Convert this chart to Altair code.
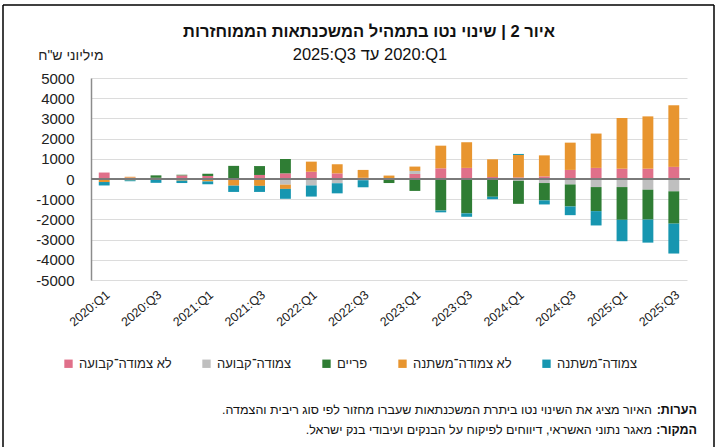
import altair as alt
import pandas as pd

quarters = ["2020:Q1", "2020:Q2", "2020:Q3", "2020:Q4",
            "2021:Q1", "2021:Q2", "2021:Q3", "2021:Q4",
            "2022:Q1", "2022:Q2", "2022:Q3", "2022:Q4",
            "2023:Q1", "2023:Q2", "2023:Q3", "2023:Q4",
            "2024:Q1", "2024:Q2", "2024:Q3", "2024:Q4",
            "2025:Q1", "2025:Q2", "2025:Q3"]

series_names = ["לא צמודה־קבועה", "צמודה־קבועה", "פריים", "לא צמודה־משתנה", "צמודה־משתנה"]
series_colors = ["#e0708a", "#bfbfbf", "#2f7d34", "#e8952f", "#1796b0"]

# millions of NIS, per quarter
fixed_nonindexed = [320, 70, 60, 180, 150, 30, 200, 280, 360, 280, 60, 20,
                    250, 530, 550, 100, 80, 130, 450, 550, 510, 510, 600]
fixed_indexed = [-40, 0, 0, 0, 0, 0, 0, -280, -320, -210, -60, 0,
                 150, 0, 0, 0, -90, -200, -270, -400, -400, -530, -610]
prime = [0, -70, 120, 30, 110, 620, 440, 710, 0, 0, 0, -200,
         -590, -1560, -1700, -880, -1140, -860, -1090, -1190, -1620, -1480, -1600]
variable_nonindexed = [-110, 40, -40, -80, -120, -330, -340, -210, 500, 450, 390, 150,
                       215, 1120, 1270, 875, 1110, 1040, 1350, 1700, 2510, 2590, 3050]
variable_indexed = [-170, -40, -150, -120, -140, -310, -300, -490, -550, -500, -350, 0,
                    0, -90, -170, -120, 50, -200, -430, -710, -1060, -1140, -1480]

label_quarters = quarters[::2]
y_ticks = list(range(-5000, 5001, 1000))

title_text = "איור 2 | שינוי נטו בתמהיל המשכנתאות הממוחזרות"
subtitle_text = "2025:Q3 עד \u200e2020:Q1"
unit_text = "מיליוני ש\"ח"
note_bold = "הערות:\u200f"
note_text = "האיור מציג את השינוי נטו ביתרת המשכנתאות שעברו מחזור לפי סוג ריבית והצמדה.\u200f"
source_bold = "המקור:\u200f"
source_text = "מאגר נתוני האשראי, דיווחים לפיקוח על הבנקים ועיבודי בנק ישראל.\u200f"

all_series = [fixed_nonindexed, fixed_indexed, prime, variable_nonindexed, variable_indexed]
rows = []
for si, (name, vals) in enumerate(zip(series_names, all_series)):
    for q, v in zip(quarters, vals):
        rows.append({"quarter": q, "series": name, "value": v, "ord": si})
df = pd.DataFrame(rows)

FONT = "Liberation Sans"
W, H = 596, 202

y_scale = alt.Scale(domain=[-5000, 5000], nice=False)
y_axis = alt.Axis(title=unit_text, values=y_ticks, labelExpr="'' + datum.value",
                  labelOverlap=False, labelBound=False, labelFlush=False,
                  titleAngle=0, titleAlign="right", titleBaseline="middle",
                  titleX=12, titleY=-23, titleFont=FONT, titleFontSize=14,
                  titleFontWeight="normal", titleColor="#222",
                  labelFontSize=15, labelFont=FONT, labelColor="#222",
                  labelPadding=17, ticks=False, domainColor="#8c8c8c",
                  domainWidth=1.5, gridColor="#dcdcdc", gridWidth=1)

bars = alt.Chart(df).mark_bar().encode(
    x=alt.X("quarter:N", sort=quarters,
            scale=alt.Scale(paddingInner=0.58, paddingOuter=0.3),
            axis=alt.Axis(title=None, values=label_quarters, labelAngle=-40,
                          labelFontSize=12.5, labelFont=FONT, labelColor="#222",
                          ticks=False, domain=False, labelPadding=8, grid=False)),
    y=alt.Y("value:Q", stack="zero", scale=y_scale, axis=y_axis),
    color=alt.Color("series:N",
                    scale=alt.Scale(domain=series_names, range=series_colors),
                    legend=alt.Legend(orient="none", legendX=-29, legendY=279,
                                      direction="horizontal", title=None,
                                      symbolType="square", symbolSize=70,
                                      symbolStrokeWidth=0, labelFont=FONT,
                                      labelFontSize=13, labelColor="#222",
                                      labelLimit=0, columnPadding=28)),
    order=alt.Order("ord:Q", sort="ascending"),
)

one = alt.Data(values=[{}])

zero = alt.Chart(one).mark_rule(color="#7a7a7a", strokeWidth=2).encode(
    y=alt.Y(datum=0, scale=y_scale, axis=y_axis), x=alt.value(0), x2=alt.value(W + 3))


def txt(text, x, y, size, bold=False, align="center"):
    return alt.Chart(one).mark_text(
        text=text, font=FONT, fontSize=size, align=align, baseline="middle",
        fontWeight="bold" if bold else "normal", color="#111"
    ).encode(x=alt.value(x), y=alt.value(y))


frame_left = alt.Chart(one).mark_rule(color="#000", strokeWidth=1.5).encode(
    x=alt.value(-88), y=alt.value(-73), y2=alt.value(369))
frame_right = alt.Chart(one).mark_rule(color="#000", strokeWidth=1.5).encode(
    x=alt.value(623), y=alt.value(-73), y2=alt.value(369))
frame_top = alt.Chart(one).mark_rule(color="#000", strokeWidth=1.5).encode(
    x=alt.value(-88), x2=alt.value(623), y=alt.value(-73))

chart = alt.layer(
    bars, zero,
    txt(title_text, 278, -46, 16.5, bold=True),
    txt(subtitle_text, 279, -23, 16.5),
    txt(note_bold, 606, 332, 12.5, bold=True, align="right"),
    txt(note_text, 561, 332, 12.5, align="right"),
    txt(source_bold, 606, 352, 12.5, bold=True, align="right"),
    txt(source_text, 561, 352, 12.5, align="right"),
    frame_left, frame_right, frame_top,
).properties(
    width=W, height=H,
    autosize=alt.AutoSizeParams(type="none"),
    padding={"left": 91, "top": 78, "right": 36, "bottom": 167},
    background="white",
).configure_view(stroke=None).configure_axisY(labelOverlap=False)

chart.save("out.html", embed_options={"renderer": "svg", "actions": False})
